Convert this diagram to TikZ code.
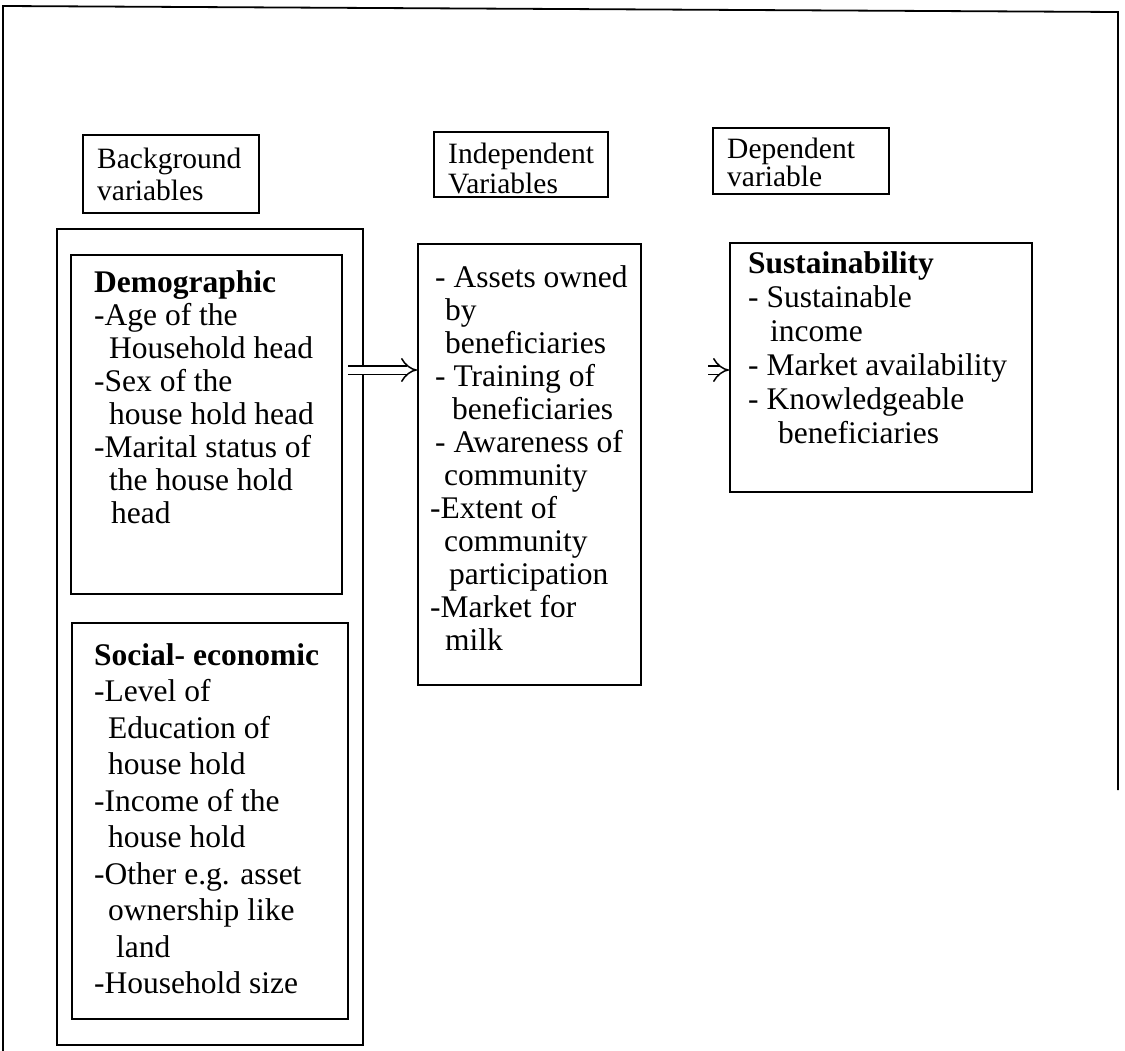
\documentclass[tikz,border=0pt]{standalone}
\usepackage{fontspec}
\setmainfont{Liberation Serif}
\usetikzlibrary{arrows.meta,positioning}
\tikzset{
	box/.style={draw, line width=1.6pt, anchor=north west, inner sep=0pt},
	txt/.style={anchor=north west, align=left, inner sep=0pt, font=\fontsize{31.5}{34}\selectfont},
	flowarrow/.style={double, double distance=7pt, line width=1.5pt, -{Implies[length=9pt, width=22pt]}},
}
\begin{document}
\begin{tikzpicture}[x=1pt,y=-1pt]
	\useasboundingbox (0,0) rectangle (1125,1051);
	% frame, open at the bottom
	\draw[line width=1.8pt] (3,1051) -- (3,6) -- (1118,12) -- (1118,790);
	% headings
	\node[box, minimum width=176pt, minimum height=78pt] (bghead) at (82,134) {};
	\node[box, minimum width=174pt, minimum height=65pt] (indhead) at (433,131) {};
	\node[box, minimum width=176pt, minimum height=66pt] (dephead) at (712,127) {};
	\node[txt, font=\fontsize{29.5}{32}\selectfont] (bgtitle) at (97,148) {Background\\variables};
	\node[txt, font=\fontsize{29.5}{30}\selectfont] (indtitle) at (448,143) {Independent\\Variables};
	\node[txt, font=\fontsize{29.5}{28}\selectfont] (deptitle) at (727,138) {Dependent\\variable};
	% background variables
	\node[box, minimum width=306pt, minimum height=816pt] (bgbox) at (56,228) {};
	\node[box, minimum width=271pt, minimum height=339pt] (demo) at (70,254) {};
	\node[box, minimum width=276pt, minimum height=396pt] (socio) at (71,622) {};
	\node[txt, font=\fontsize{31.5}{33}\selectfont] (demotext) at (94,270) {\textbf{Demographic}\\
		-Age of the\\
		\hspace*{15pt}Household head\\
		-Sex of the\\
		\hspace*{15pt}house hold head\\
		-Marital status of\\
		\hspace*{15pt}the house hold\\
		\hspace*{17pt}head};
	\node[txt, font=\fontsize{31.5}{36.5}\selectfont] (sociotext) at (94,643) {\textbf{Social- economic}\\
		-Level of\\
		\hspace*{14pt}Education of\\
		\hspace*{14pt}house hold\\
		-Income of the\\
		\hspace*{14pt}house hold\\
		-Other e.g. asset\\
		\hspace*{14pt}ownership like\\
		\hspace*{22pt}land\\
		-Household size};
	% independent variables
	\node[box, minimum width=223pt, minimum height=441pt] (indep) at (417,243) {};
	\node[txt, font=\fontsize{31.5}{33}\selectfont] (indeptext) at (430,265) {\hspace*{5pt}- Assets owned\\
		\hspace*{15pt}by\\
		\hspace*{15pt}beneficiaries\\
		\hspace*{5pt}- Training of\\
		\hspace*{22pt}beneficiaries\\
		\hspace*{5pt}- Awareness of\\
		\hspace*{14pt}community\\
		-Extent of\\
		\hspace*{14pt}community\\
		\hspace*{19pt}participation\\
		-Market for\\
		\hspace*{15pt}milk};
	% dependent variable
	\node[box, minimum width=302pt, minimum height=249pt] (depend) at (729,242) {};
	\node[txt, font=\fontsize{31.5}{34}\selectfont] (dependtext) at (748,251) {\textbf{Sustainability}\\
		- Sustainable\\
		\hspace*{22pt}income\\
		- Market availability\\
		- Knowledgeable\\
		\hspace*{30pt}beneficiaries};
	% arrows
	\coordinate (a1) at (348,370);
	\coordinate (a2) at (708,370);
	\draw[flowarrow] (a1) -- (a1 -| indep.west);
	\draw[flowarrow] (a2) -- (a2 -| depend.west);
\end{tikzpicture}
\end{document}
